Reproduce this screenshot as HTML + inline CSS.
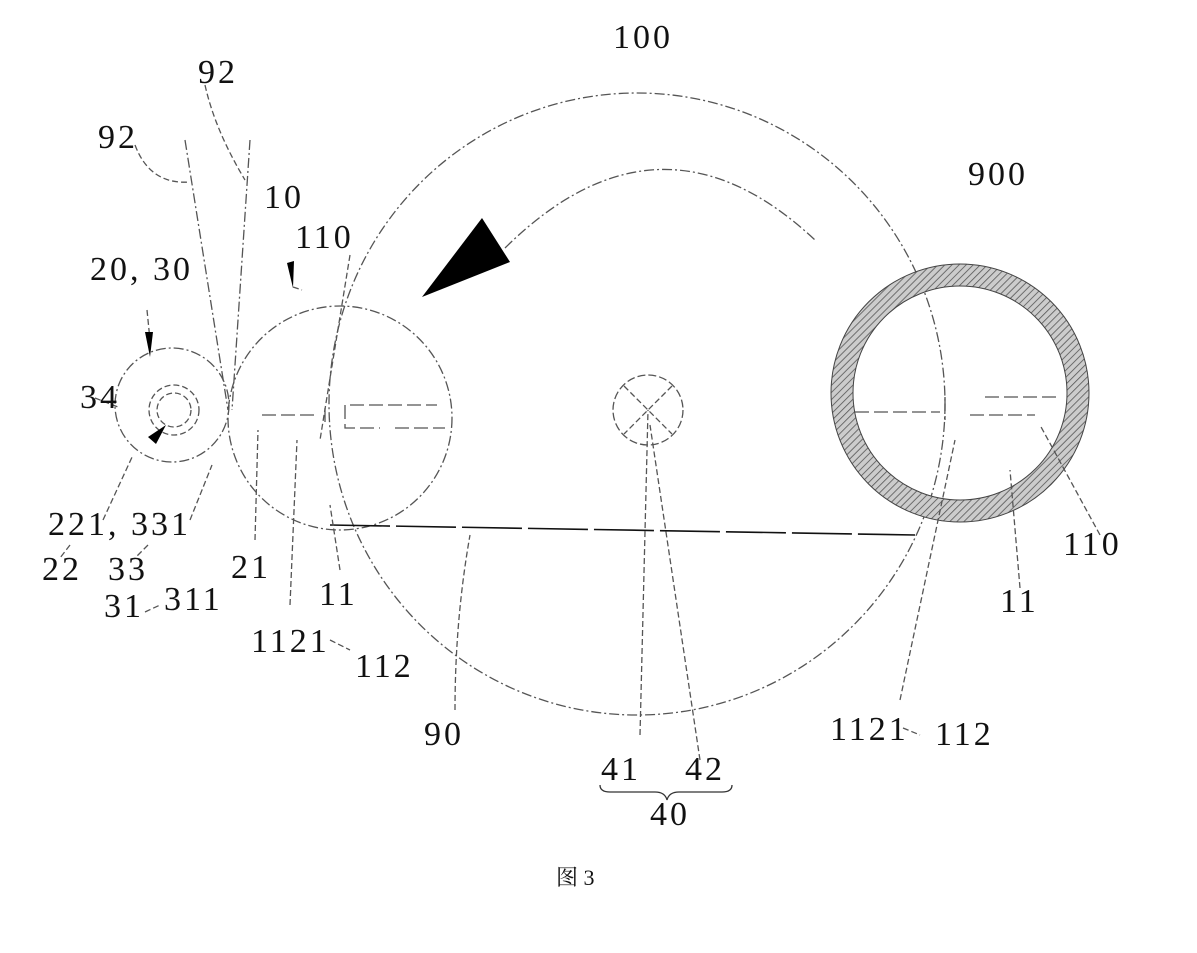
<!DOCTYPE html>
<html><head><meta charset="utf-8"><style>
html,body{margin:0;padding:0;background:#fff;}
svg{display:block}
text{font-family:"Liberation Serif","Noto Serif CJK SC",serif;font-size:34px;letter-spacing:3px;fill:#111;}
</style></head><body>
<svg width="1197" height="953" viewBox="0 0 1197 953" xmlns="http://www.w3.org/2000/svg">
<defs>
<pattern id="h" patternUnits="userSpaceOnUse" width="5" height="5" patternTransform="rotate(45)">
<rect width="5" height="5" fill="#ccc"/><line x1="0" y1="0" x2="0" y2="5" stroke="#555" stroke-width="1.6"/>
</pattern>
</defs>
<g fill="none" stroke="#555" stroke-width="1.3">
<ellipse cx="637" cy="404" rx="308" ry="311" stroke-dasharray="10 3 2 3"/>
<circle cx="340" cy="418" r="112" stroke-dasharray="10 3 2 3"/>
<circle cx="172" cy="405" r="57" stroke-dasharray="10 3 2 3"/>
<circle cx="174" cy="410" r="25" stroke-dasharray="6 3"/>
<circle cx="174" cy="410" r="17" stroke-dasharray="6 3"/>
<circle cx="648" cy="410" r="35" stroke-dasharray="8 3"/>
<line x1="624" y1="386" x2="672" y2="434" stroke-dasharray="6 3"/>
<line x1="672" y1="386" x2="624" y2="434" stroke-dasharray="6 3"/>
<circle cx="960" cy="393" r="118" stroke="url(#h)" stroke-width="22"/>
<circle cx="960" cy="393" r="129" stroke="#444" stroke-width="1"/>
<circle cx="960" cy="393" r="107" stroke="#444" stroke-width="1"/>
<path d="M262 415 H315 M325 408 V425 M350 405 H437 M345 405 V428 H380 M395 428 H445" stroke-dasharray="14 5"/>
<path d="M855 412 H940 M945 397 V420 M985 397 H1060 M970 415 H1035" stroke-dasharray="14 5"/>
<path d="M330 525 L915 535" stroke="#111" stroke-width="1.6" stroke-dasharray="60 6"/>
<path d="M505 248 Q660 95 815 240" stroke-dasharray="10 3 2 3"/>
<path d="M185 140 L228 410 M250 140 L232 410" stroke-dasharray="10 3 2 3"/>
<path d="M135 145 Q150 185 190 182 M205 85 Q215 130 245 180" stroke-dasharray="6 3"/>
<path d="M350 255 L320 440 M293 287 L302 290 M95 398 L118 407 M147 310 L150 340 M103 520 L133 455 M70 545 L60 558 M148 545 L135 558 M190 520 L212 465 M255 540 L258 430 M290 605 L297 440 M340 570 L330 505 M330 640 L350 650 M455 710 Q455 620 470 535 M640 735 L648 410 M700 760 L650 425 M1100 535 L1040 425 M1020 588 L1010 470 M900 700 L955 440 M903 728 L920 735 M145 612 L160 605" stroke-dasharray="6 3"/>
<path d="M600 785 Q600 792 610 792 L655 792 Q665 792 667 800 Q669 792 679 792 L722 792 Q732 792 732 785" stroke="#333"/>
</g>
<polygon points="422,297 482,218 510,262" fill="#000"/>
<polygon points="145,332 153,332 150,357" fill="#000"/>
<polygon points="287,263 294,261 293,288" fill="#000"/>
<polygon points="148,437 156,444 166,425" fill="#000"/>
<text x="613" y="48">100</text>
<text x="198" y="83">92</text>
<text x="98" y="148">92</text>
<text x="264" y="208">10</text>
<text x="295" y="248">110</text>
<text x="90" y="280">20, 30</text>
<text x="80" y="408">34</text>
<text x="48" y="535">221, 331</text>
<text x="42" y="580">22</text>
<text x="108" y="580">33</text>
<text x="104" y="617">31</text>
<text x="164" y="610">311</text>
<text x="231" y="578">21</text>
<text x="319" y="605">11</text>
<text x="251" y="652">1121</text>
<text x="355" y="677">112</text>
<text x="424" y="745">90</text>
<text x="601" y="780">41</text>
<text x="685" y="780">42</text>
<text x="650" y="825">40</text>
<text x="556" y="885" style="font-size:22px;letter-spacing:0">图 3</text>
<text x="968" y="185">900</text>
<text x="1063" y="555">110</text>
<text x="1000" y="612">11</text>
<text x="830" y="740">1121</text>
<text x="935" y="745">112</text>
</svg>
</body></html>
